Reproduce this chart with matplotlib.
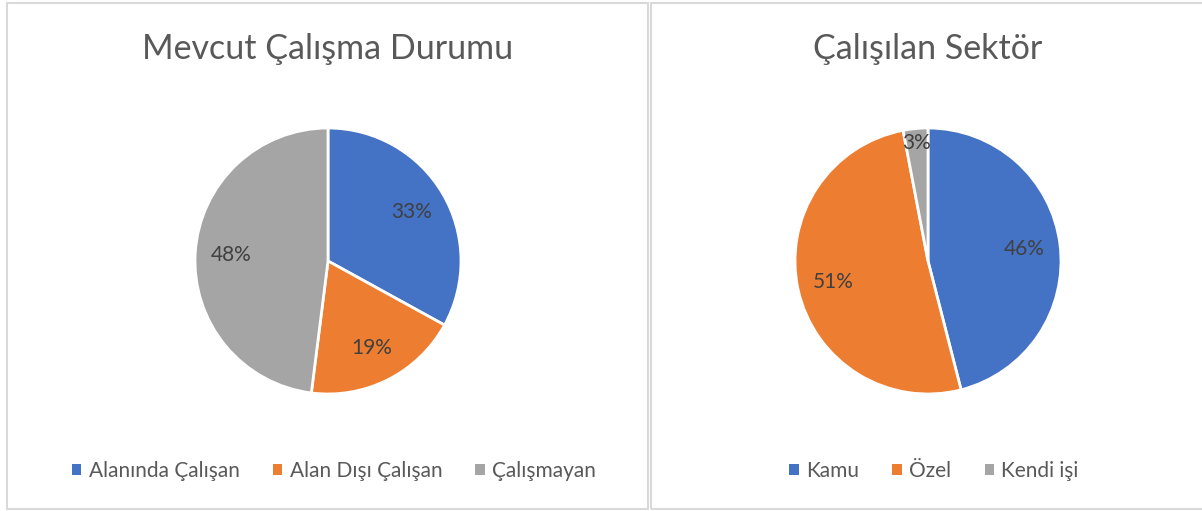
import numpy as np
import matplotlib
matplotlib.use('Agg')
from matplotlib import pyplot as plt
from matplotlib.patches import Rectangle, Patch

plt.rcParams['font.family'] = ['Lato', 'DejaVu Sans']

# left chart data
title1 = 'Mevcut Çalışma Durumu'
labels1 = ['Alanında Çalışan', 'Alan Dışı Çalışan', 'Çalışmayan']
values1 = [33, 19, 48]

# right chart data
title2 = 'Çalışılan Sektör'
labels2 = ['Kamu', 'Özel', 'Kendi işi']
values2 = [46, 51, 3]

colors = ['#4472C4', '#ED7D31', '#A5A5A5']
txtcol = '#595959'

W, H = 1202, 511
fig = plt.figure(figsize=(W/100, H/100), dpi=100)

# panel borders (pixel coords -> figure coords)
def px(x0, y0, x1, y1):
    return [x0/W, 1 - y1/H, (x1-x0)/W, (y1-y0)/H]

for (x0, y0, x1, y1) in [(6.5, 3.5, 647.5, 508.5), (650.5, 3.5, 1210, 508.5)]:
    l, b, w, h = px(x0, y0, x1, y1)
    fig.patches.append(Rectangle((l, b), w, h, transform=fig.transFigure,
                                 fill=False, edgecolor='#D9D9D9', linewidth=1.5))

def draw_pie(cx, title, labels, values, small_out=False):
    r = 133
    ax = fig.add_axes(px(cx - r, 261 - r, cx + r, 261 + r))
    wedges, texts, autotexts = ax.pie(values, colors=colors, startangle=90, counterclock=False,
                                      autopct='%d%%', pctdistance=0.73,
                                      wedgeprops=dict(edgecolor='white', linewidth=2),
                                      textprops=dict(color='#404040', fontsize=15))
    if small_out:
        # small slice label sits further out
        t = autotexts[2]
        x, y = t.get_position()
        t.set_position((x / 0.73 * 0.89, y / 0.73 * 0.89))
    ax.set_xlim(-1, 1)
    ax.set_ylim(-1, 1)
    ax.set_aspect('equal')
    ax.axis('off')
    fig.text(cx/W, 1 - 49/H, title, ha='center', va='center', fontsize=24.5,
             color=txtcol)
    handles = [Patch(facecolor=c, edgecolor='none') for c in colors]
    fig.legend(handles, labels, loc='center', bbox_to_anchor=((cx + 6)/W, 1 - 471/H),
               ncol=3, frameon=False, fontsize=15, labelcolor=txtcol,
               handlelength=0.45, handleheight=0.45, handletextpad=0.35, columnspacing=1.6)

draw_pie(328, title1, labels1, values1)
draw_pie(928, title2, labels2, values2, small_out=True)

fig.savefig('out.png', dpi=100)
